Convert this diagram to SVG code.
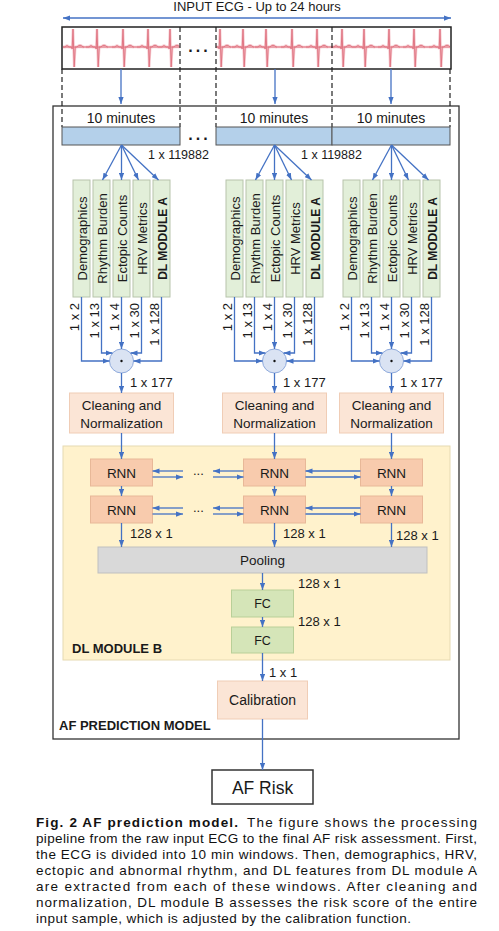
<svg xmlns="http://www.w3.org/2000/svg" xmlns:xlink="http://www.w3.org/1999/xlink" width="499" height="931" viewBox="0 0 499 931">
<style>
.t{font-family:"Liberation Sans",Arial,sans-serif;fill:#1a1a1a}
.b{font-weight:bold}
.c{stroke:#4472c4;stroke-width:1.3;fill:none}
.a{marker-end:url(#ah)}
.dash{stroke:#222;stroke-width:1.2;stroke-dasharray:5 3;fill:none}
.feat{fill:#e2efd9;stroke:#b7c4ab;stroke-width:1}
.clean{fill:#fbe5d6;stroke:#f0cdb6;stroke-width:1}
.rnn{fill:#f8cbad;stroke:#e8b898;stroke-width:1}
.fc{fill:#d5e5b8;stroke:#b9cf98;stroke-width:1}
.bar{fill:#b4d0ea;stroke:#555;stroke-width:1}
.merge{fill:#dae3f3;stroke:#8faadc;stroke-width:1}
.ecg{fill:none;stroke:#e07683;stroke-width:1}
.glow{fill:none;stroke:#f6c9cf;stroke-width:2.6}
.cap{font-family:"Liberation Sans",Arial,sans-serif;font-size:13.5px;fill:#111}
</style>
<defs>
<marker id="ah" viewBox="0 0 8 6" refX="8" refY="3" markerWidth="7" markerHeight="5.5" markerUnits="userSpaceOnUse" orient="auto-start-reverse">
<path d="M0,0 L8,3 L0,6 z" fill="#4472c4"/>
</marker>
<path id="beat" d="M-11,0 L-8,0 Q-6,-3 -4,0 L-1.5,0 L-0.8,2 L0,-18 L1.2,20 L2.2,0 L4,0 Q7,-3.5 10,0 L11,0"/>
<clipPath id="ecgclip">
<rect x="63" y="28" width="116.5" height="40"/>
<rect x="216.5" y="28" width="233.5" height="40"/>
</clipPath>
</defs>
<rect width="499" height="931" fill="#fff"/>

<text class="t" x="257" y="11" font-size="13" text-anchor="middle">INPUT ECG - Up to 24 hours</text>

<g id="input-ecg">
<rect x="62" y="27" width="389" height="42" fill="#fff" stroke="#222" stroke-width="1.5"/>
<g clip-path="url(#ecgclip)">
<g class="glow">
<line x1="63" y1="47" x2="180" y2="47"/><line x1="216" y1="47" x2="450" y2="47"/>
<use xlink:href="#beat" x="73" y="47"/><use xlink:href="#beat" x="97" y="47"/><use xlink:href="#beat" x="123" y="47"/><use xlink:href="#beat" x="148" y="47"/><use xlink:href="#beat" x="170" y="47"/>
<use xlink:href="#beat" x="220" y="47"/><use xlink:href="#beat" x="243" y="47"/><use xlink:href="#beat" x="266" y="47"/><use xlink:href="#beat" x="292" y="47"/><use xlink:href="#beat" x="317" y="47"/><use xlink:href="#beat" x="342" y="47"/><use xlink:href="#beat" x="364" y="47"/><use xlink:href="#beat" x="389" y="47"/><use xlink:href="#beat" x="414" y="47"/><use xlink:href="#beat" x="440" y="47"/>
</g>
<g class="ecg">
<line x1="63" y1="47" x2="180" y2="47"/><line x1="216" y1="47" x2="450" y2="47"/>
<use xlink:href="#beat" x="73" y="47"/><use xlink:href="#beat" x="97" y="47"/><use xlink:href="#beat" x="123" y="47"/><use xlink:href="#beat" x="148" y="47"/><use xlink:href="#beat" x="170" y="47"/>
<use xlink:href="#beat" x="220" y="47"/><use xlink:href="#beat" x="243" y="47"/><use xlink:href="#beat" x="266" y="47"/><use xlink:href="#beat" x="292" y="47"/><use xlink:href="#beat" x="317" y="47"/><use xlink:href="#beat" x="342" y="47"/><use xlink:href="#beat" x="364" y="47"/><use xlink:href="#beat" x="389" y="47"/><use xlink:href="#beat" x="414" y="47"/><use xlink:href="#beat" x="440" y="47"/>
</g>
</g>
<text class="t b" x="199.5" y="52" font-size="16" text-anchor="middle" letter-spacing="3">...</text>
</g>

<g id="outer-box">
<rect x="53" y="106" width="406" height="633" fill="none" stroke="#333" stroke-width="1.3"/>
<text class="t b" x="59" y="730" font-size="13">AF PREDICTION MODEL</text>
</g>

<g id="windows">
<path class="dash" d="M62,69 V127 M180,27 V127 M216,27 V127 M332,27 V127 M450,69 V127"/>
<rect class="bar" x="62" y="127" width="118" height="18"/>
<rect class="bar" x="216" y="127" width="116" height="18"/>
<rect class="bar" x="332" y="127" width="118" height="18"/>
<text class="t" x="121" y="122.5" font-size="14" text-anchor="middle">10 minutes</text>
<text class="t" x="274" y="122.5" font-size="14" text-anchor="middle">10 minutes</text>
<text class="t" x="391" y="122.5" font-size="14" text-anchor="middle">10 minutes</text>
<text class="t b" x="199.5" y="140" font-size="16" text-anchor="middle" letter-spacing="3">...</text>
<text class="t" x="148" y="159" font-size="12.5">1 x 119882</text>
<text class="t" x="301" y="159" font-size="12.5">1 x 119882</text>
</g>

<g id="dl-module-b">
<rect x="63" y="446" width="387" height="214" fill="#fff2cc" stroke="#e6dab2" stroke-width="1"/>
<text class="t b" x="72" y="653" font-size="13">DL MODULE B</text>
</g>

<g id="features-1">
<rect class="feat" x="73" y="180" width="17" height="117"/>
<rect class="feat" x="93" y="180" width="17" height="117"/>
<rect class="feat" x="113" y="180" width="17" height="117"/>
<rect class="feat" x="133" y="180" width="17" height="117"/>
<rect class="feat" x="153" y="180" width="17" height="117"/>
<text class="t" font-size="13" text-anchor="middle" transform="translate(86.5,238.5) rotate(-90)">Demographics</text>
<text class="t" font-size="13" text-anchor="middle" transform="translate(106.5,238.5) rotate(-90)">Rhythm Burden</text>
<text class="t" font-size="13" text-anchor="middle" transform="translate(126.5,238.5) rotate(-90)">Ectopic Counts</text>
<text class="t" font-size="13" text-anchor="middle" transform="translate(146.5,238.5) rotate(-90)">HRV Metrics</text>
<text class="t b" font-size="12" text-anchor="middle" transform="translate(166.5,238.5) rotate(-90)">DL MODULE A</text>
</g>
<g id="features-2">
<rect class="feat" x="226" y="180" width="17" height="117"/>
<rect class="feat" x="246" y="180" width="17" height="117"/>
<rect class="feat" x="266" y="180" width="17" height="117"/>
<rect class="feat" x="286" y="180" width="17" height="117"/>
<rect class="feat" x="306" y="180" width="17" height="117"/>
<text class="t" font-size="13" text-anchor="middle" transform="translate(239.5,238.5) rotate(-90)">Demographics</text>
<text class="t" font-size="13" text-anchor="middle" transform="translate(259.5,238.5) rotate(-90)">Rhythm Burden</text>
<text class="t" font-size="13" text-anchor="middle" transform="translate(279.5,238.5) rotate(-90)">Ectopic Counts</text>
<text class="t" font-size="13" text-anchor="middle" transform="translate(299.5,238.5) rotate(-90)">HRV Metrics</text>
<text class="t b" font-size="12" text-anchor="middle" transform="translate(319.5,238.5) rotate(-90)">DL MODULE A</text>
</g>
<g id="features-3">
<rect class="feat" x="343" y="180" width="17" height="117"/>
<rect class="feat" x="363" y="180" width="17" height="117"/>
<rect class="feat" x="383" y="180" width="17" height="117"/>
<rect class="feat" x="403" y="180" width="17" height="117"/>
<rect class="feat" x="423" y="180" width="17" height="117"/>
<text class="t" font-size="13" text-anchor="middle" transform="translate(356.5,238.5) rotate(-90)">Demographics</text>
<text class="t" font-size="13" text-anchor="middle" transform="translate(376.5,238.5) rotate(-90)">Rhythm Burden</text>
<text class="t" font-size="13" text-anchor="middle" transform="translate(396.5,238.5) rotate(-90)">Ectopic Counts</text>
<text class="t" font-size="13" text-anchor="middle" transform="translate(416.5,238.5) rotate(-90)">HRV Metrics</text>
<text class="t b" font-size="12" text-anchor="middle" transform="translate(436.5,238.5) rotate(-90)">DL MODULE A</text>
</g>

<g id="merge-1"><circle class="merge" cx="121.5" cy="361" r="12"/><circle cx="121.5" cy="361" r="1.2" fill="#111"/></g>
<g id="merge-2"><circle class="merge" cx="274.5" cy="361" r="12"/><circle cx="274.5" cy="361" r="1.2" fill="#111"/></g>
<g id="merge-3"><circle class="merge" cx="391.5" cy="361" r="12"/><circle cx="391.5" cy="361" r="1.2" fill="#111"/></g>

<g id="cleaning-1"><rect class="clean" x="69.5" y="393" width="104" height="40"/>
<text class="t" x="121.5" y="410" font-size="13.5" text-anchor="middle">Cleaning and</text>
<text class="t" x="121.5" y="428" font-size="13.5" text-anchor="middle">Normalization</text></g>
<g id="cleaning-2"><rect class="clean" x="222.5" y="393" width="104" height="40"/>
<text class="t" x="274.5" y="410" font-size="13.5" text-anchor="middle">Cleaning and</text>
<text class="t" x="274.5" y="428" font-size="13.5" text-anchor="middle">Normalization</text></g>
<g id="cleaning-3"><rect class="clean" x="339.5" y="393" width="104" height="40"/>
<text class="t" x="391.5" y="410" font-size="13.5" text-anchor="middle">Cleaning and</text>
<text class="t" x="391.5" y="428" font-size="13.5" text-anchor="middle">Normalization</text></g>

<g id="rnn-1a"><rect class="rnn" x="90.5" y="459" width="62" height="27"/><text class="t" x="121.5" y="477.5" font-size="13.5" text-anchor="middle">RNN</text></g>
<g id="rnn-2a"><rect class="rnn" x="243.5" y="459" width="62" height="27"/><text class="t" x="274.5" y="477.5" font-size="13.5" text-anchor="middle">RNN</text></g>
<g id="rnn-3a"><rect class="rnn" x="360.5" y="459" width="62" height="27"/><text class="t" x="391.5" y="477.5" font-size="13.5" text-anchor="middle">RNN</text></g>
<g id="rnn-1b"><rect class="rnn" x="90.5" y="496" width="62" height="27"/><text class="t" x="121.5" y="514.5" font-size="13.5" text-anchor="middle">RNN</text></g>
<g id="rnn-2b"><rect class="rnn" x="243.5" y="496" width="62" height="27"/><text class="t" x="274.5" y="514.5" font-size="13.5" text-anchor="middle">RNN</text></g>
<g id="rnn-3b"><rect class="rnn" x="360.5" y="496" width="62" height="27"/><text class="t" x="391.5" y="514.5" font-size="13.5" text-anchor="middle">RNN</text></g>

<g id="pooling"><rect x="98" y="547" width="329" height="26" fill="#d9d9d9" stroke="#bfbfbf" stroke-width="1"/>
<text class="t" x="262.5" y="565" font-size="13.5" text-anchor="middle">Pooling</text></g>
<g id="fc-1"><rect class="fc" x="231.5" y="590" width="62" height="27"/><text class="t" x="262.5" y="608" font-size="12.5" text-anchor="middle">FC</text></g>
<g id="fc-2"><rect class="fc" x="231.5" y="627" width="62" height="26"/><text class="t" x="262.5" y="645" font-size="12.5" text-anchor="middle">FC</text></g>
<g id="calibration"><rect class="clean" x="217.5" y="681" width="90" height="38"/><text class="t" x="262.5" y="705" font-size="14" text-anchor="middle">Calibration</text></g>
<g id="af-risk"><rect x="212" y="770" width="101" height="34" fill="#fff" stroke="#333" stroke-width="1.5"/><text class="t" x="262.5" y="794" font-size="17.5" text-anchor="middle">AF Risk</text></g>

<g id="connectors">
<path class="c" d="M63,18 H451" marker-start="url(#ah)" marker-end="url(#ah)"/>
<path class="c a" d="M121,69 V104"/>
<path class="c a" d="M275,69 V104"/>
<path class="c a" d="M391,69 V104"/>
<path class="c a" d="M121.5,145 L102.5,180"/><path class="c a" d="M121.5,145 V180"/><path class="c a" d="M121.5,145 L138.5,180"/><path class="c a" d="M121.5,145 L158.5,180"/>
<path class="c a" d="M274.5,145 L255.5,180"/><path class="c a" d="M274.5,145 V180"/><path class="c a" d="M274.5,145 L291.5,180"/><path class="c a" d="M274.5,145 L311.5,180"/>
<path class="c a" d="M391.5,145 L372.5,180"/><path class="c a" d="M391.5,145 V180"/><path class="c a" d="M391.5,145 L408.5,180"/><path class="c a" d="M391.5,145 L428.5,180"/>
<path class="c a" d="M81.5,297 V361 H109.5"/><path class="c a" d="M101.5,297 V353 H112.5"/><path class="c a" d="M121.5,297 V349"/><path class="c a" d="M141.5,297 V353 H130.5"/><path class="c a" d="M161.5,297 V361 H133.5"/>
<path class="c a" d="M234.5,297 V361 H262.5"/><path class="c a" d="M254.5,297 V353 H265.5"/><path class="c a" d="M274.5,297 V349"/><path class="c a" d="M294.5,297 V353 H283.5"/><path class="c a" d="M314.5,297 V361 H286.5"/>
<path class="c a" d="M351.5,297 V361 H379.5"/><path class="c a" d="M371.5,297 V353 H382.5"/><path class="c a" d="M391.5,297 V349"/><path class="c a" d="M411.5,297 V353 H400.5"/><path class="c a" d="M431.5,297 V361 H403.5"/>
<path class="c a" d="M121.5,373 V393"/><path class="c a" d="M274.5,373 V393"/><path class="c a" d="M391.5,373 V393"/>
<path class="c a" d="M121.5,433 V459"/><path class="c a" d="M274.5,433 V459"/><path class="c a" d="M391.5,433 V459"/>
<path class="c a" d="M121.5,486 V496"/><path class="c a" d="M274.5,486 V496"/><path class="c a" d="M391.5,486 V496"/>
<path class="c a" d="M121.5,523 V547"/><path class="c a" d="M274.5,523 V547"/><path class="c a" d="M391.5,523 V547"/>
<path class="c a" d="M183,471 H152.5"/><path class="c a" d="M152.5,477 H183"/><path class="c a" d="M243.5,471 H213"/><path class="c a" d="M213,477 H243.5"/>
<path class="c a" d="M360.5,471 H305.5"/><path class="c a" d="M305.5,477 H360.5"/>
<path class="c a" d="M183,508 H152.5"/><path class="c a" d="M152.5,514 H183"/><path class="c a" d="M243.5,508 H213"/><path class="c a" d="M213,514 H243.5"/>
<path class="c a" d="M360.5,508 H305.5"/><path class="c a" d="M305.5,514 H360.5"/>
<path class="c a" d="M262.5,573 V590"/><path class="c a" d="M262.5,617 V627"/><path class="c a" d="M262.5,653 V681"/><path class="c a" d="M262.5,719 V770"/>
</g>

<g id="connector-labels">
<g font-size="13" text-anchor="end">
<text class="t" transform="translate(78.5,303) rotate(-90)">1 x 2</text>
<text class="t" transform="translate(98.5,303) rotate(-90)">1 x 13</text>
<text class="t" transform="translate(118.5,303) rotate(-90)">1 x 4</text>
<text class="t" transform="translate(138.5,303) rotate(-90)">1 x 30</text>
<text class="t" transform="translate(158.5,303) rotate(-90)">1 x 128</text>
<text class="t" transform="translate(231.5,303) rotate(-90)">1 x 2</text>
<text class="t" transform="translate(251.5,303) rotate(-90)">1 x 13</text>
<text class="t" transform="translate(271.5,303) rotate(-90)">1 x 4</text>
<text class="t" transform="translate(291.5,303) rotate(-90)">1 x 30</text>
<text class="t" transform="translate(311.5,303) rotate(-90)">1 x 128</text>
<text class="t" transform="translate(348.5,303) rotate(-90)">1 x 2</text>
<text class="t" transform="translate(368.5,303) rotate(-90)">1 x 13</text>
<text class="t" transform="translate(388.5,303) rotate(-90)">1 x 4</text>
<text class="t" transform="translate(408.5,303) rotate(-90)">1 x 30</text>
<text class="t" transform="translate(428.5,303) rotate(-90)">1 x 128</text>
</g>
<text class="t" x="130" y="387" font-size="13">1 x 177</text>
<text class="t" x="283" y="387" font-size="13">1 x 177</text>
<text class="t" x="400" y="387" font-size="13">1 x 177</text>
<text class="t" x="193" y="475" font-size="13">...</text>
<text class="t" x="193" y="512" font-size="13">...</text>
<text class="t" x="130" y="538" font-size="13">128 x 1</text>
<text class="t" x="283" y="538" font-size="13">128 x 1</text>
<text class="t" x="396" y="540" font-size="13">128 x 1</text>
<text class="t" x="298" y="588" font-size="13">128 x 1</text>
<text class="t" x="298" y="626" font-size="13">128 x 1</text>
<text class="t" x="269" y="677" font-size="13">1 x 1</text>
</g>

<g id="caption">
<text class="cap" x="36" y="827" font-weight="bold" textLength="202" lengthAdjust="spacing">Fig. 2  AF prediction model.</text>
<text class="cap" x="247" y="827" textLength="230" lengthAdjust="spacing">The figure shows the processing</text>
<text class="cap" x="36" y="843" textLength="441" lengthAdjust="spacing">pipeline from the raw input ECG to the final AF risk assessment. First,</text>
<text class="cap" x="36" y="859" textLength="441" lengthAdjust="spacing">the ECG is divided into 10 min windows. Then, demographics, HRV,</text>
<text class="cap" x="36" y="875" textLength="441" lengthAdjust="spacing">ectopic and abnormal rhythm, and DL features from DL module A</text>
<text class="cap" x="36" y="891" textLength="441" lengthAdjust="spacing">are extracted from each of these windows. After cleaning and</text>
<text class="cap" x="36" y="907" textLength="441" lengthAdjust="spacing">normalization, DL module B assesses the risk score of the entire</text>
<text class="cap" x="36" y="923" textLength="375" lengthAdjust="spacing">input sample, which is adjusted by the calibration function.</text>
</g>
</svg>
